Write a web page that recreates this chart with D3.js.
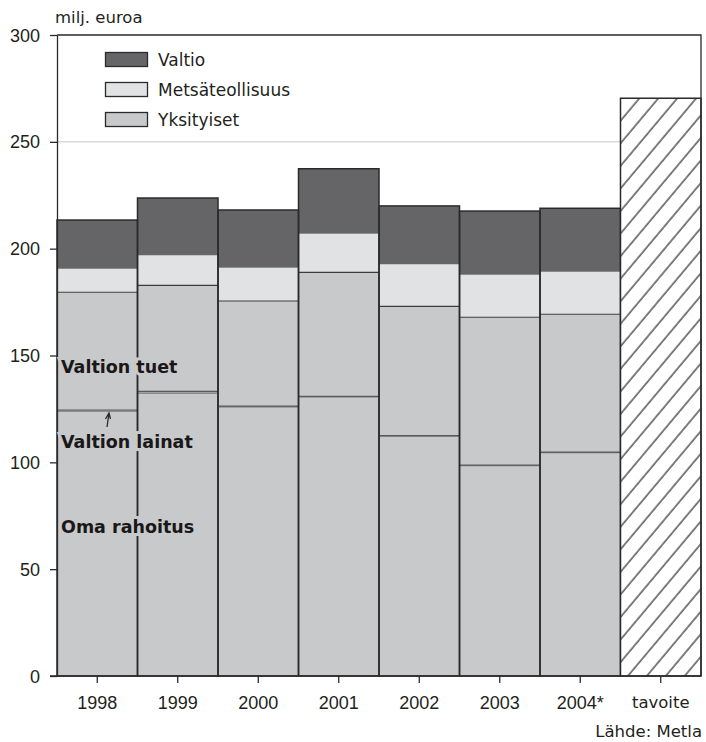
<!DOCTYPE html>
<html>
<head>
<meta charset="utf-8">
<script src="https://cdn.jsdelivr.net/npm/d3@7"></script>
<style>
body { margin: 0; background: #fff; }
text { fill: #231f20; }
</style>
</head>
<body>
<div id="chart"></div>
<script>
// vuodet + tavoite
const years = ['1998','1999','2000','2001','2002','2003','2004*'];
const goalLabel = 'tavoite';
const goalValue = 270.4;

// milj. euroa, pinottuna alhaalta ylös
const omaRahoitus     = [124.0, 132.4, 126.0, 130.6, 112.2, 98.4, 104.5];
const valtionLainat   = [  0.5,   0.8,   0.3,   0.3,   0.3,  0.3,   0.3];
const valtionTuet     = [ 55.1,  49.6,  49.2,  58.0,  60.5, 69.2,  64.5];
const metsateollisuus = [ 11.0,  14.1,  15.6,  18.1,  19.7, 19.9,  19.9];
const valtio          = [ 22.8,  26.8,  27.0,  30.4,  27.3, 29.8,  29.7];

const yTicks = [0, 50, 100, 150, 200, 250, 300];
const legendLabels = ['Valtio', 'Metsäteollisuus', 'Yksityiset'];
const noteLabels = ['Valtion tuet', 'Valtion lainat', 'Oma rahoitus'];
const yTitle = 'milj. euroa';
const source = 'Lähde: Metla';

const width = 706, height = 742;
const m = {top: 35, right: 5, bottom: 66, left: 57};
const dark = '#2b2a2b';
const cVal = '#656567', cMet = '#e1e2e4', cYks = '#c8c9cb';
const numFont = '"Liberation Sans", Arial, sans-serif';
const txtFont = '"DejaVu Sans", sans-serif';

const svg = d3.select('#chart').append('svg')
  .attr('width', width).attr('height', height);

const defs = svg.append('defs');
defs.append('pattern')
  .attr('id', 'hatch')
  .attr('patternUnits', 'userSpaceOnUse')
  .attr('width', 14.5).attr('height', 14.5)
  .attr('patternTransform', 'rotate(40)')
  .call(p => {
    p.append('rect').attr('width', 14.5).attr('height', 14.5).attr('fill', '#fff');
    p.append('line').attr('x1', 2).attr('x2', 2).attr('y1', 0).attr('y2', 14.5)
      .attr('stroke', dark).attr('stroke-width', 1.2);
  });

const cats = years.concat([goalLabel]);
const x = d3.scaleBand().domain(cats).range([m.left, width - m.right]).padding(0);
const y = d3.scaleLinear().domain([0, 300]).range([height - m.bottom, m.top]);

// ruudukko
svg.append('g').selectAll('line').data(yTicks.filter(t => t > 0 && t < 300)).enter()
  .append('line')
  .attr('x1', m.left).attr('x2', width - m.right)
  .attr('y1', d => y(d)).attr('y2', d => y(d))
  .attr('stroke', '#c6c6c6').attr('stroke-width', 1);

// pinotut palkit
const series = [
  {vals: omaRahoitus, fill: cYks, edge: '#77777a'},
  {vals: valtionLainat, fill: cYks, edge: '#5a5a5c'},
  {vals: valtionTuet, fill: cYks, edge: '#3c3c3e'},
  {vals: metsateollisuus, fill: cMet, edge: null},
  {vals: valtio, fill: cVal, edge: null}
];
const stacked = years.map((yr, i) => {
  let base = 0;
  return series.map(s => {
    const seg = {yr: yr, y0: base, y1: base + s.vals[i], fill: s.fill, edge: s.edge};
    base = seg.y1;
    return seg;
  });
});

const gBars = svg.append('g');
stacked.forEach(segs => {
  const g = gBars.append('g');
  g.selectAll('rect').data(segs).enter().append('rect')
    .attr('x', d => x(d.yr)).attr('width', x.bandwidth())
    .attr('y', d => y(d.y1)).attr('height', d => y(d.y0) - y(d.y1))
    .attr('fill', d => d.fill);
  g.selectAll('line').data(segs.filter(d => d.edge)).enter().append('line')
    .attr('x1', d => x(d.yr)).attr('x2', d => x(d.yr) + x.bandwidth())
    .attr('y1', d => y(d.y1)).attr('y2', d => y(d.y1))
    .attr('stroke', d => d.edge).attr('stroke-width', 1.2);
});
// palkkien ääriviivat
gBars.selectAll('rect.outline').data(stacked.map(s => s[s.length - 1])).enter()
  .append('rect').attr('class', 'outline')
  .attr('x', d => x(d.yr)).attr('width', x.bandwidth())
  .attr('y', d => y(d.y1)).attr('height', d => y(0) - y(d.y1))
  .attr('fill', 'none').attr('stroke', dark).attr('stroke-width', 1.5);

// tavoite
svg.append('rect')
  .attr('x', x(goalLabel)).attr('width', x.bandwidth())
  .attr('y', y(goalValue)).attr('height', y(0) - y(goalValue))
  .attr('fill', 'url(#hatch)').attr('stroke', dark).attr('stroke-width', 1.5);

// kehys ylä ja oikea
svg.append('path')
  .attr('d', `M${m.left},${y(300)}H${width - m.right}V${y(0)}`)
  .attr('fill', 'none').attr('stroke', dark).attr('stroke-width', 1.3);

// akselit
const yAxis = svg.append('g').attr('transform', `translate(${m.left},0)`)
  .call(d3.axisLeft(y).tickValues(yTicks).tickSize(7).tickSizeOuter(0).tickPadding(10));
yAxis.select('.domain').attr('stroke', dark).attr('stroke-width', 1.3);
yAxis.selectAll('.tick line').attr('stroke', dark).attr('stroke-width', 1.3);
yAxis.selectAll('.tick text').attr('font-family', numFont).attr('font-size', 18)
  .attr('fill', '#231f20').attr('dy', '0.34em');

const xAxis = svg.append('g').attr('transform', `translate(0,${y(0)})`)
  .call(d3.axisBottom(x).tickSize(7).tickSizeOuter(0).tickPadding(13));
xAxis.select('.domain').remove();
svg.append('line').attr('x1', m.left - 7).attr('x2', width - m.right)
  .attr('y1', y(0)).attr('y2', y(0)).attr('stroke', dark).attr('stroke-width', 1.3);
xAxis.selectAll('.tick line').attr('stroke', dark).attr('stroke-width', 1.3);
xAxis.selectAll('.tick text')
  .attr('font-family', d => d === goalLabel ? txtFont : numFont)
  .attr('font-size', d => d === goalLabel ? 16.5 : 18)
  .attr('fill', '#231f20').attr('dy', '0.71em');

// otsikko
svg.append('text').attr('x', m.left - 2).attr('y', 23)
  .attr('font-family', txtFont).attr('font-size', 16.5).text(yTitle);

// selite
const lg = svg.append('g');
[cVal, cMet, cYks].forEach((c, i) => {
  lg.append('rect').attr('x', 105.5).attr('y', 52.5 + i * 30).attr('width', 42).attr('height', 14)
    .attr('fill', c).attr('stroke', dark).attr('stroke-width', 1.3);
  lg.append('text').attr('x', 158).attr('y', 66 + i * 30)
    .attr('font-family', txtFont).attr('font-size', 17).text(legendLabels[i]);
});

// huomautukset
const noteY = [373, 448, 533];
svg.append('g').selectAll('text').data(noteLabels).enter().append('text')
  .attr('x', 61).attr('y', (d, i) => noteY[i])
  .attr('font-family', txtFont).attr('font-weight', 'bold').attr('font-size', 17.5)
  .attr('stroke', cYks).attr('stroke-width', 6).attr('paint-order', 'stroke')
  .style('fill', '#1a1718')
  .text(d => d);

// nuoli valtion lainoihin
const tipY = y(omaRahoitus[0] + valtionLainat[0]) + 3;
svg.append('path')
  .attr('d', `M107,${tipY + 14}L109,${tipY}M105.5,${tipY + 6}L109,${tipY}L110.5,${tipY + 6}`)
  .attr('fill', 'none').attr('stroke', dark).attr('stroke-width', 1.3);

// lähde
svg.append('text').attr('x', width - 4).attr('y', 737).attr('text-anchor', 'end')
  .attr('font-family', txtFont).attr('font-size', 16.5).text(source);
</script>
</body>
</html>
